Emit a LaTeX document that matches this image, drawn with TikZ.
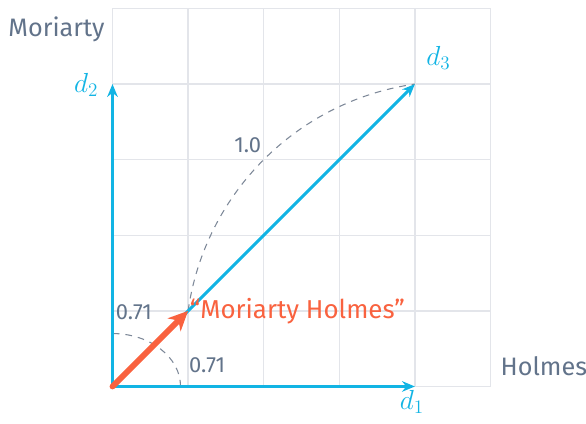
\documentclass[tikz,border=0pt]{standalone}
\usepackage{fontspec}
\setmainfont{Fira Sans}
\usepackage{xcolor}
\usepackage{tikz}
\usetikzlibrary{arrows.meta}
\definecolor{VecBlue}{HTML}{12B4E4}
\definecolor{VecRed}{HTML}{F9623F}
\definecolor{AxisGray}{HTML}{62738A}
\definecolor{ArcGray}{HTML}{7D8898}
\definecolor{GridGray}{HTML}{E3E5EA}

\begin{document}
\begin{tikzpicture}[x=2cm, y=2cm,
    axlabel/.style={text=AxisGray, font=\fontsize{19}{22}\selectfont, anchor=base west, inner sep=0pt},
    numlabel/.style={text=AxisGray, font=\fontsize{16.5}{19}\selectfont, anchor=base west, inner sep=0pt},
    dlabel/.style={text=VecBlue, font=\fontsize{22}{26}\selectfont, inner sep=0pt},
    bluevec/.style={VecBlue, line width=2.2pt, -{Stealth[length=3.4mm, width=2.8mm, inset=1.1mm]}},
    redvec/.style={VecRed, line width=4.4pt, line cap=round, -{Stealth[length=5.2mm, width=4.8mm, inset=1.6mm]}},
    arcdash/.style={ArcGray, line width=0.8pt, dash pattern=on 5pt off 4.5pt}]
  \useasboundingbox (-1.488,-0.496) rectangle (6.263,5.112);
  % grid
  \foreach \i in {0,...,5}{
    \draw[GridGray, line width=1.1pt] (\i,0) -- (\i,5);
    \draw[GridGray, line width=1.1pt] (0,\i) -- (5,\i);}
  \coordinate (O) at (0,0);
  \coordinate (D1) at (4,0);
  \coordinate (D2) at (0,4);
  \coordinate (D3) at (4,4);
  \coordinate (MH) at (1,1);
  % dashed arcs
  \draw[arcdash] (0.9,0) arc[start angle=0, end angle=90, x radius=0.9, y radius=0.7];
  \draw[arcdash] (MH) arc[start angle=171.87, end angle=98.13, radius=3.5355];
  % vectors
  \draw[bluevec] (O) -- (D1);
  \draw[bluevec] (O) -- (D2);
  \draw[bluevec] (O) -- (D3);
  \draw[redvec] (O) -- (MH);
  % labels
  \node[dlabel] (d1) at (3.96,-0.2) {$d_1$};
  \node[dlabel] (d2) at (-0.35,3.99) {$d_2$};
  \node[dlabel] (d3) at (4.31,4.34) {$d_3$};
  \node[axlabel] (moriarty) at (-1.38,4.63) {Moriarty};
  \node[axlabel] (holmes) at (5.13,0.148) {Holmes};
  \node[numlabel] (ny) at (0.04,0.89) {0.71};
  \node[numlabel] (nx) at (1.01,0.19) {0.71};
  \node[numlabel] (none) at (1.61,3.09) {1.0};
  \node[axlabel, text=VecRed, font=\fontsize{19.5}{22}\selectfont] (doc) at (1.02,0.893) {“Moriarty Holmes”};
\end{tikzpicture}
\end{document}
